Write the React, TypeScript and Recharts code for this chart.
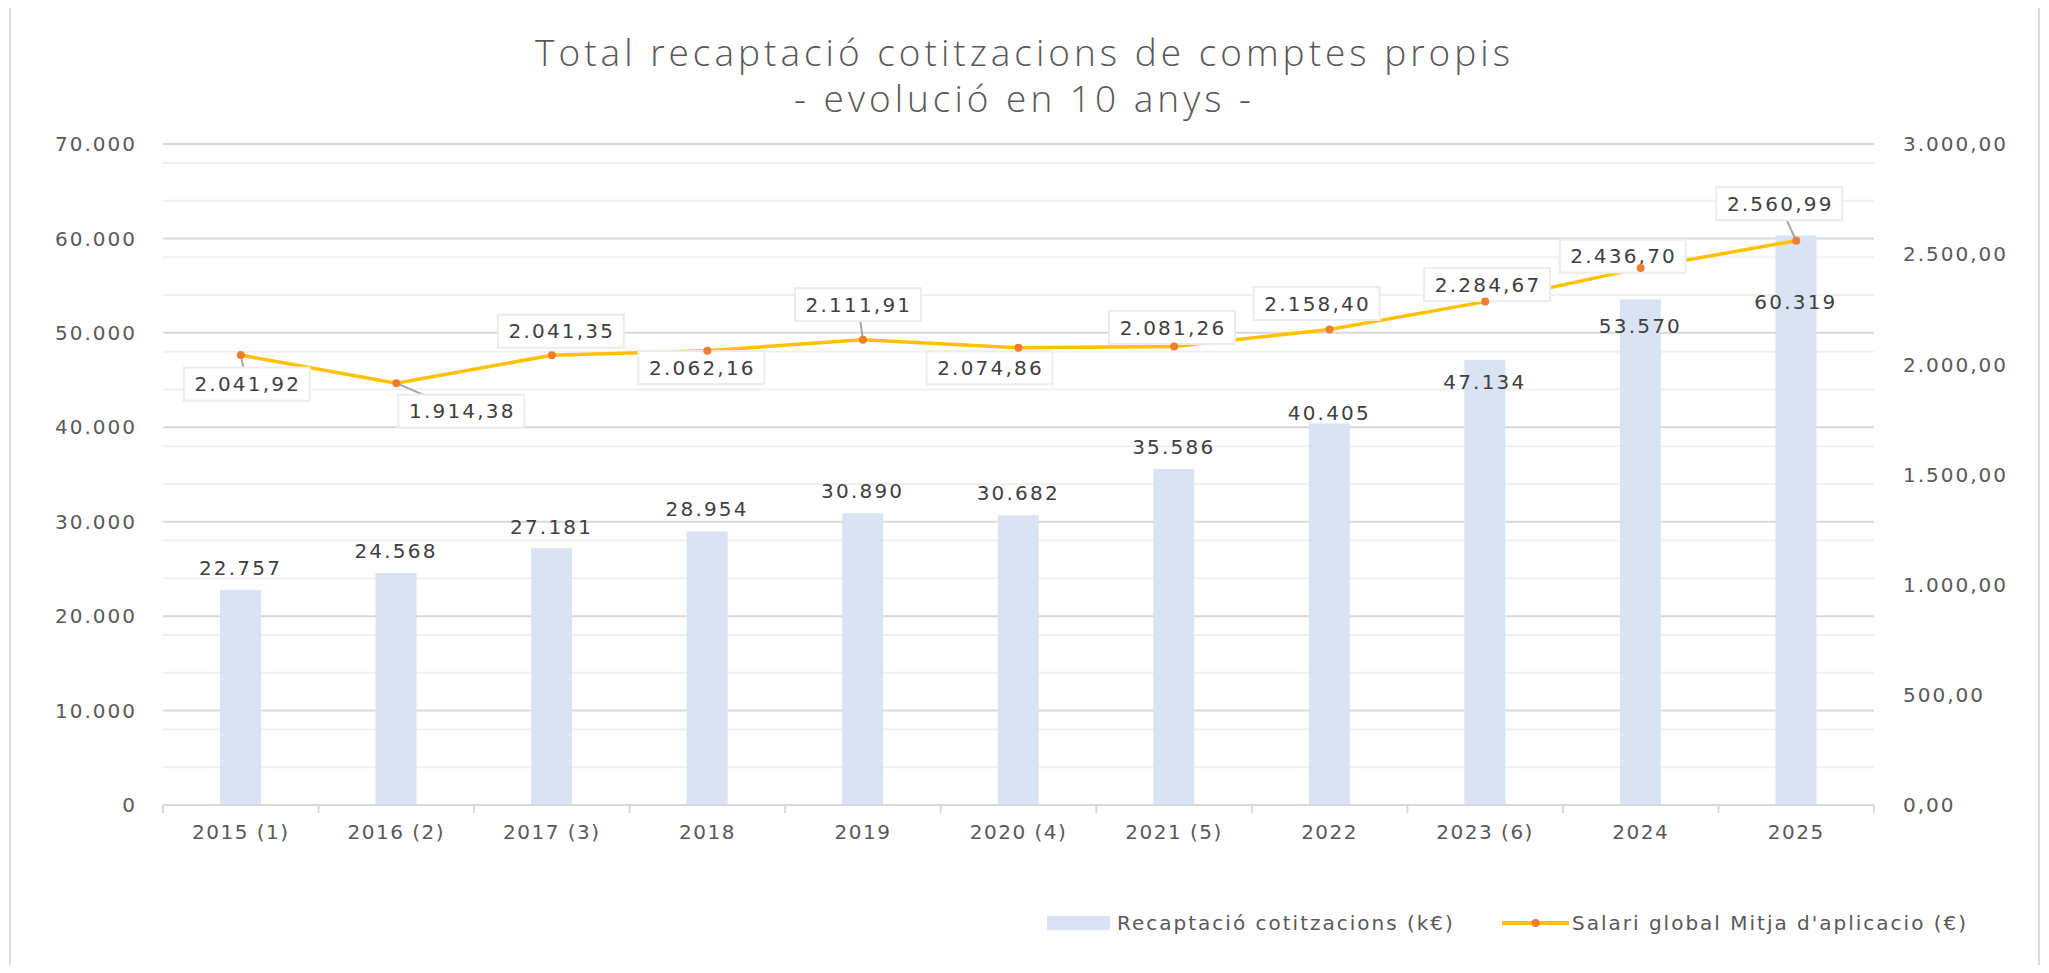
import React from 'react';
import { ComposedChart, Bar, Line, XAxis, YAxis, CartesianGrid, LabelList, Legend } from 'recharts';

// ---------- data ----------
const categories = ['2015 (1)', '2016 (2)', '2017 (3)', '2018', '2019', '2020 (4)', '2021 (5)', '2022', '2023 (6)', '2024', '2025'];
const recaptacio = [22757, 24568, 27181, 28954, 30890, 30682, 35586, 40405, 47134, 53570, 60319];
const salari = [2041.92, 1914.38, 2041.35, 2062.16, 2111.91, 2074.86, 2081.26, 2158.4, 2284.67, 2436.7, 2560.99];
const leftTicks = [0, 10000, 20000, 30000, 40000, 50000, 60000, 70000];
const minorTicks = [2000, 4000, 6000, 8000, 12000, 14000, 16000, 18000, 22000, 24000, 26000, 28000, 32000, 34000, 36000, 38000, 42000, 44000, 46000, 48000, 52000, 54000, 56000, 58000, 62000, 64000, 66000, 68000];
const rightTicks = [0, 500, 1000, 1500, 2000, 2500, 3000];

// ---------- label layout (offsets relative to marks) ----------
const barLabelDy = [-22.5, -22.5, -22, -22.5, -22.5, -22.5, -22.5, -11, 22, 27, 66];
const lineLabelOffset = [[6, 29], [65, 28], [9, -24], [-6, 17], [-5, -35], [-29, 20], [-2, -19], [-13, -26], [2, -17], [-18, -12], [-17, -37]];
const lineLabelLeader = [true, true, false, false, true, false, false, false, false, false, true];

const data = categories.map((c, i) => ({ cat: c, rec: recaptacio[i], sal: salari[i] }));

const FONT = '"DejaVu Sans", sans-serif';
const TEXT = '#595959';
const LABEL = '#404040';
const BAR = '#dae3f3';
const LINE = '#ffc000';
const DOT = '#ed7d31';

const thousands = (s: string) => s.replace(/\B(?=(\d{3})+(?!\d))/g, '.');
const fmtInt = (v: number) => thousands(String(Math.round(v)));
const fmtDec = (v: number) => {
  const [i, d] = v.toFixed(2).split('.');
  return thousands(i) + ',' + d;
};

const LeftTick = (p: any) => (
  <text x={Number(p.x) - 26} y={Number(p.y)} dy="0.36em" textAnchor="end" fontSize={20} letterSpacing={2} fill={TEXT} fontFamily={FONT}>
    {fmtInt(p.payload.value)}
  </text>
);

const RightTick = (p: any) => (
  <text x={Number(p.x) + 29} y={Number(p.y)} dy="0.36em" textAnchor="start" fontSize={20} letterSpacing={2} fill={TEXT} fontFamily={FONT}>
    {fmtDec(p.payload.value)}
  </text>
);

const XTick = (p: any) => {
  const x = Number(p.x);
  const y = Number(p.y);
  const count = p.visibleTicksCount || categories.length;
  const band = p.width ? Number(p.width) / count : (p.payload.offset || 0) * 2;
  const last = p.index === count - 1;
  return (
    <g>
      <line x1={x - band / 2} x2={x - band / 2} y1={y} y2={y + 8} stroke="#d9d9d9" strokeWidth={2} />
      {last && <line x1={x + band / 2} x2={x + band / 2} y1={y} y2={y + 8} stroke="#d9d9d9" strokeWidth={2} />}
      <text x={x} y={y + 34} textAnchor="middle" fontSize={20} letterSpacing={1.5} fill={TEXT} fontFamily={FONT}>
        {p.payload.value}
      </text>
    </g>
  );
};

const BarLabel = (p: any) => {
  const x = Number(p.x) + Number(p.width) / 2;
  const y = Number(p.y) + barLabelDy[p.index];
  return (
    <text x={x} y={y} dy="0.36em" textAnchor="middle" fontSize={20} letterSpacing={2.2} fill={LABEL} fontFamily={FONT}>
      {fmtInt(p.value)}
    </text>
  );
};

// label boxes for the line, drawn as the "dots" of an invisible helper line so they sit under the real line
const LineLabelBox = (p: any) => {
  const px = Number(p.cx);
  const py = Number(p.cy);
  const [dx, dy] = lineLabelOffset[p.index];
  const cx = px + dx;
  const cy = py + dy;
  const w = 126;
  const h = 33;
  let leader = null;
  if (lineLabelLeader[p.index]) {
    const edgeY = dy > 0 ? cy - h / 2 : cy + h / 2;
    const t = (edgeY - py) / (cy - py);
    const ex = px + t * (cx - px);
    leader = <line x1={px} y1={py} x2={ex} y2={edgeY} stroke="#a6a6a6" strokeWidth={2} />;
  }
  return (
    <g key={`lbl-${p.index}`}>
      {leader}
      <rect x={cx - w / 2} y={cy - h / 2} width={w} height={h} fill="#ffffff" stroke="#ececec" strokeWidth={2} />
      <text x={cx + 1} y={cy} dy="0.36em" textAnchor="middle" fontSize={20} letterSpacing={2.2} fill={LABEL} fontFamily={FONT}>
        {fmtDec(p.payload.sal)}
      </text>
    </g>
  );
};

const LegendContent = () => (
  <div style={{ position: 'relative', width: 2049, height: 36, fontFamily: FONT, fontSize: 20, color: TEXT, letterSpacing: 2 }}>
    <div style={{ position: 'absolute', left: 1047, top: 11, width: 63, height: 14, background: BAR }} />
    <div style={{ position: 'absolute', left: 1117, top: 0, lineHeight: '36px', whiteSpace: 'nowrap' }}>Recaptació cotitzacions (k€)</div>
    <svg style={{ position: 'absolute', left: 1502, top: 0 }} width={67} height={36}>
      <line x1={0} x2={67} y1={18} y2={18} stroke={LINE} strokeWidth={4} />
      <circle cx={33.5} cy={18} r={4} fill={DOT} />
    </svg>
    <div style={{ position: 'absolute', left: 1572, top: 0, lineHeight: '36px', whiteSpace: 'nowrap' }}>Salari global Mitja d'aplicacio (€)</div>
  </div>
);

export default function App() {
  return (
    <div style={{ position: 'relative', width: 2049, height: 965, margin: '-8px 0 0 -8px', overflow: 'hidden', background: '#ffffff' }}>
      <div style={{ position: 'absolute', left: 9, top: 5, width: 2031, height: 1000, border: '2px solid #d9d9d9', boxSizing: 'border-box' }} />
      <div style={{ position: 'absolute', left: 0, top: 29, width: 2049, textAlign: 'center', fontFamily: '"Open Sans", sans-serif', fontWeight: 300, fontSize: 37, lineHeight: '46px', color: TEXT, letterSpacing: 4 }}>
        <div>Total recaptació cotitzacions de comptes propis</div>
        <div>- evolució en 10 anys -</div>
      </div>
      <div style={{ position: 'absolute', left: 0, top: 0 }}>
        <ComposedChart width={2049} height={973} data={data} margin={{ top: 144, right: 25, bottom: 118, left: 63 }}>
          <CartesianGrid yAxisId="left" vertical={false} horizontalValues={minorTicks} stroke="#f0f0f0" strokeWidth={2} />
          <CartesianGrid yAxisId="left" vertical={false} horizontalValues={leftTicks} stroke="#d9d9d9" strokeWidth={2} />
          <XAxis dataKey="cat" height={50} interval={0} tickSize={0} tickMargin={0} tickLine={false} axisLine={{ stroke: '#d9d9d9', strokeWidth: 2 }} tick={<XTick />} />
          <YAxis yAxisId="left" width={100} domain={[0, 70000]} ticks={leftTicks} tickSize={0} tickMargin={0} axisLine={false} tickLine={false} tick={<LeftTick />} />
          <YAxis yAxisId="right" orientation="right" width={150} domain={[0, 3000]} ticks={rightTicks} tickSize={0} tickMargin={0} axisLine={false} tickLine={false} tick={<RightTick />} />
          <Bar yAxisId="left" dataKey="rec" fill={BAR} barSize={41} isAnimationActive={false}>
            <LabelList dataKey="rec" content={<BarLabel />} />
          </Bar>
          <Line yAxisId="right" dataKey="sal" stroke="none" dot={(props: any) => <LineLabelBox key={`box-${props.index}`} {...props} />} activeDot={false} legendType="none" isAnimationActive={false} />
          <Line yAxisId="right" dataKey="sal" stroke={LINE} strokeWidth={3.5} dot={{ r: 4, fill: DOT, stroke: 'none' }} activeDot={false} isAnimationActive={false} />
          <Legend verticalAlign="bottom" wrapperStyle={{ position: 'absolute', left: 0, top: 905, width: 2049, height: 0, overflow: 'visible' }} content={() => <LegendContent />} />
        </ComposedChart>
      </div>
    </div>
  );
}
